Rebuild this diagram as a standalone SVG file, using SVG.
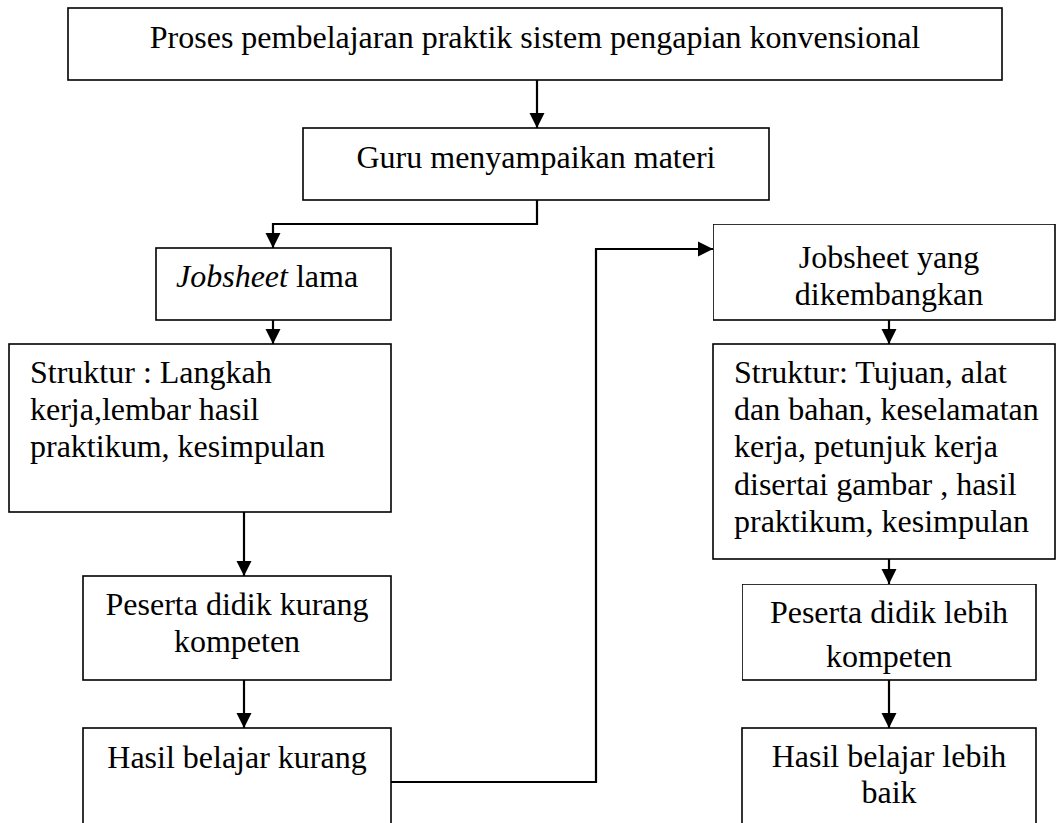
<svg xmlns="http://www.w3.org/2000/svg" width="1058" height="823" viewBox="0 0 1058 823">
<style>
.box{fill:#fff;stroke:#000;stroke-width:1.6}
.t{font-family:"Liberation Serif","Times New Roman",serif;font-size:32px;fill:#000}
.c{text-anchor:middle}
.line{fill:none;stroke:#000;stroke-width:2.2}
</style>
<defs>
<marker id="ah" markerWidth="16" markerHeight="16" refX="15" refY="8" orient="auto" markerUnits="userSpaceOnUse">
<path d="M0,0.5 L15,8 L0,15.5 Z" fill="#000"/>
</marker>
</defs>
<rect width="1058" height="823" fill="#fff"/>
<g id="connectors">
<path class="line" d="M537,80 V128" marker-end="url(#ah)"/>
<path class="line" d="M537,200 V224 H273 V248" marker-end="url(#ah)"/>
<path class="line" d="M273,320 V344" marker-end="url(#ah)"/>
<path class="line" d="M244,512 V576" marker-end="url(#ah)"/>
<path class="line" d="M244,680 V728" marker-end="url(#ah)"/>
<path class="line" d="M391,782 H596 V249 H713" marker-end="url(#ah)"/>
<path class="line" d="M889,320 V344" marker-end="url(#ah)"/>
<path class="line" d="M889,559 V584" marker-end="url(#ah)"/>
<path class="line" d="M889,680 V728" marker-end="url(#ah)"/>
</g>
<g id="n-proses">
<rect class="box" x="68" y="8" width="934" height="72"/>
<text class="t c" x="535" y="48">Proses pembelajaran praktik sistem pengapian konvensional</text>
</g>
<g id="n-guru">
<rect class="box" x="303" y="128" width="466" height="72"/>
<text class="t c" x="536" y="168">Guru menyampaikan materi</text>
</g>
<g id="n-jobsheet-lama">
<rect class="box" x="156" y="248" width="235" height="72"/>
<text class="t" x="176" y="287"><tspan font-style="italic">Jobsheet</tspan> lama</text>
</g>
<g id="n-struktur-lama">
<rect class="box" x="9" y="344" width="382" height="168"/>
<text class="t" x="30" y="383">Struktur : Langkah</text>
<text class="t" x="30" y="420">kerja,lembar hasil</text>
<text class="t" x="30" y="457">praktikum, kesimpulan</text>
</g>
<g id="n-peserta-kurang">
<rect class="box" x="83" y="576" width="308" height="104"/>
<text class="t c" x="237" y="615">Peserta didik kurang</text>
<text class="t c" x="237" y="652">kompeten</text>
</g>
<g id="n-hasil-kurang">
<rect class="box" x="83" y="728" width="308" height="110"/>
<text class="t c" x="237" y="768">Hasil belajar kurang</text>
</g>
<g id="n-jobsheet-baru">
<svg x="713" y="224" width="344" height="97" overflow="hidden">
<rect class="box" x="0" y="0" width="342" height="96"/>
<text class="t c" x="176" y="44">Jobsheet yang</text>
<text class="t c" x="176" y="81">dikembangkan</text>
</svg>
</g>
<g id="n-struktur-baru">
<rect class="box" x="713" y="344" width="342" height="215"/>
<text class="t" x="734" y="383">Struktur: Tujuan, alat</text>
<text class="t" x="734" y="420">dan bahan, keselamatan</text>
<text class="t" x="734" y="457">kerja, petunjuk kerja</text>
<text class="t" x="734" y="495">disertai gambar , hasil</text>
<text class="t" x="734" y="532">praktikum, kesimpulan</text>
</g>
<g id="n-peserta-lebih">
<svg x="742" y="584" width="295" height="97" overflow="hidden">
<rect class="box" x="0" y="0" width="294" height="96"/>
<text class="t c" x="147" y="39">Peserta didik lebih</text>
<text class="t c" x="147" y="83">kompeten</text>
</svg>
</g>
<g id="n-hasil-lebih">
<rect class="box" x="742" y="728" width="294" height="110"/>
<text class="t c" x="889" y="767">Hasil belajar lebih</text>
<text class="t c" x="889" y="803">baik</text>
</g>
</svg>
